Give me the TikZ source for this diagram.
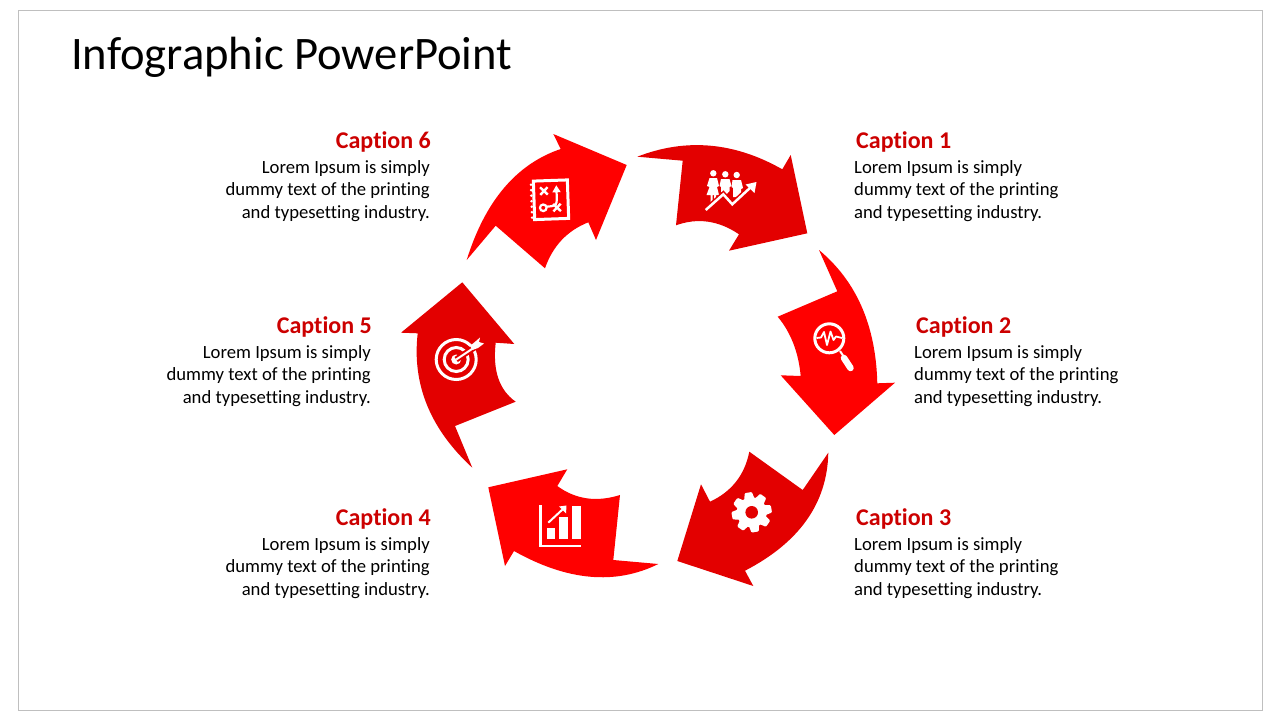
\documentclass[tikz,border=0pt]{standalone}
\usepackage{fontspec}
\setmainfont[RawFeature={-liga;-clig;-dlig;-calt}]{Carlito}
\usetikzlibrary{positioning}
\definecolor{redA}{HTML}{E30000}
\definecolor{redB}{HTML}{FF0000}
\definecolor{capred}{HTML}{CC0000}
\newcommand{\lorem}{Lorem Ipsum is simply\\dummy text of the printing\\and typesetting industry.}
\begin{document}
\begin{tikzpicture}
		[x=1pt,y=-1pt,
		 capR/.style= {inner sep=0,anchor=base east,text=capred,font=\fontsize{24}{25}\selectfont\bfseries},
		 capL/.style= {inner sep=0,anchor=base west,text=capred,font=\fontsize{24}{25}\selectfont\bfseries},
		 txtR/.style= {inner sep=0,anchor=north east,align=right,font=\fontsize{18.67}{22.5}\selectfont},
		 txtL/.style= {inner sep=0,anchor=north west,align=left,font=\fontsize{18.67}{22.5}\selectfont},
		 ico/.style= {draw=white,line width=2.5,line join=miter},
		 icoFill/.style= {fill=white}]

		\useasboundingbox (0,0) rectangle (1280,720);
		\draw[black!25,line width=1] (18.5,10.5) rectangle (1262.5,710.5);

		\node[inner sep=0,anchor=base west,font=\fontsize{46.6}{50}\selectfont] (title) at (71,69.5) {Infographic PowerPoint};

		% arrows
		\fill[redA] (637.3,156.7) .. controls (685.9,137.8) and (734.2,142) .. (782.3,169.3) -- (790.7,155) -- (807.3,233.3) -- (729,250.7)
			-- (739,234.3) .. controls (718.7,220.5) and (697.7,217.5) .. (676,225.3) -- (682.7,160.7) -- cycle;
		\fill[redB] (819,250) .. controls (856.5,281.2) and (875.9,325.6) .. (877.3,383.3) -- (895,382.7) -- (834.3,435) -- (780.7,375.3)
			-- (800.7,376) .. controls (798.5,352.2) and (790.8,332.4) .. (777.7,316.7) -- (837.3,291.3) -- cycle;
		\fill[redA] (828.3,452.7) .. controls (827.3,503.1) and (799.5,542.4) .. (745,570.7) -- (753.3,586) -- (677.3,561) -- (701,484.3)
			-- (710,501.7) .. controls (731.6,491.7) and (744.7,475) .. (749.3,451.7) -- (802.7,490) -- cycle;
		\fill[redB] (658.3,564) .. controls (615.3,585.3) and (567.2,580.9) .. (514,551) -- (505,566) -- (488.3,487.3) -- (567.3,469.3)
			-- (557.3,486) .. controls (575.6,499.4) and (596.5,502.4) .. (620,495) -- (613.3,560) -- cycle;
		\fill[redA] (472.3,467.7) .. controls (430.1,428.9) and (411.9,384.1) .. (417.7,333.3) -- (401,332.7) -- (462.3,282.3) -- (514.3,344)
			-- (495.7,342.7) .. controls (492.5,370.5) and (499.2,390.2) .. (515.7,401.7) -- (455,426) -- cycle;
		\fill[redB] (466.7,260) .. controls (485.1,201) and (516.4,164) .. (560.7,149) -- (553.3,134) -- (626.7,165) -- (596,240)
			-- (588.3,222.3) .. controls (567.3,230.6) and (552.8,245.9) .. (545,268.3) -- (495.7,225.7) -- cycle;

		% people
		\fill[icoFill] (713.3,173.3) circle (3.2) (725.3,174.3) circle (3.2) (736.7,175) circle (3.2);
		\fill[icoFill] (709.5,178) -- (717,178) -- (719,186) -- (717,187) -- (719,195) -- (716,195) -- (716,202) -- (714,202) -- (714,195)
			-- (712.5,195) -- (712.5,202) -- (710.5,202) -- (710.5,195) -- (706.5,195) -- (709.5,187) -- (707,186) -- cycle;
		\fill[icoFill] (721,179) -- (729.5,179) -- (731.5,186) -- (729.5,187) -- (729.5,191) -- (725,196) -- (721,192) -- (721,187) -- (719.5,186) -- cycle;
		\fill[icoFill] (732.5,180) -- (741,180) -- (743,188) -- (741,189) -- (741,193) -- (737,197) -- (733,197) -- (733,188) -- (731.5,187) -- cycle;
		\draw[redA,line width=5.5] (705.7,210) -- (723.3,194.3) -- (732.3,204.3) -- (751,187);
		\draw[ico] (705.7,210) -- (723.3,194.3) -- (732.3,204.3) -- (751,187);
		\fill[icoFill] (756.5,182) -- (754.5,193) -- (745.5,184.5) -- cycle;

		% magnifier
		\draw[ico,line width=3] (829.3,338.3) circle (14.5);
		\draw[draw=white,line width=1.8,line join=round] (816.5,338) -- (821,337.5) -- (824,332) -- (827,345) -- (830.5,331.5) -- (833.5,340) -- (836,336.5) -- (842,338);
		\draw[draw=white,line width=2] (840,351) -- (844,357);
		\draw[draw=white,line width=6.5,line cap=round] (844,358) -- (850.5,368);

		% gear
		\fill[icoFill] (751.7,512.3) circle (15);
		\foreach \a in {0,45,...,315}
			\fill[icoFill,rounded corners=1,rotate around={\a+10:(751.7,512.3)}] (748,492.3) -- (755.4,492.3) -- (757,500) -- (746.4,500) -- cycle;
		\fill[redA] (751.7,512.3) circle (6.3);

		% bars
		\draw[ico] (540.5,505) -- (540.5,546) -- (580.5,546);
		\fill[icoFill] (546.7,527.7) rectangle (555,539.3);
		\fill[icoFill] (559.3,516.7) rectangle (568.3,539.3);
		\fill[icoFill] (571.7,506) rectangle (581,539.3);
		\draw[ico,line width=2] (548.3,522.7) -- (563,509);
		\fill[icoFill] (566.5,505.5) -- (566,513.5) -- (559,506.5) -- cycle;

		% target
		\draw[ico,line width=3] (456.2,359.5) circle (20);
		\draw[ico,line width=3] (456.2,359.5) circle (12);
		\fill[icoFill] (456.2,359.5) circle (5);
		\draw[redA,line width=6] (456.2,359.5) -- (475,347);
		\draw[ico,line width=2] (456.2,359.5) -- (475,347);
		\fill[icoFill] (470,346) -- (476,341) -- (480,337.5) -- (479,342) -- (484,343.5) -- (478,348) -- (472.5,350) -- cycle;

		% notebook
		\begin{scope}[rotate around={2:(551,199.5)}]
			\draw[ico,line width=3] (534,180.5) rectangle (568,219);
			\foreach \b in {184,189.5,...,217}
				\fill[icoFill] (531.5,\b) circle (1.4);
			\draw[ico,line width=2.4] (540.5,187) -- (548,194.5) (548,187) -- (540.5,194.5);
			\draw[ico,line width=2.4] (553,204) -- (560.5,211.5) (560.5,204) -- (553,211.5);
			\draw[ico,line width=2.2] (543,207.5) circle (3.3);
			\draw[ico,line width=2.2] (546.5,206.5) .. controls (557,206) .. (556.8,192);
			\fill[icoFill] (556.8,185.5) -- (561,192.5) -- (552.5,192.5) -- cycle;
		\end{scope}

		% captions
		\node[capL] (cap1) at (856,148) {Caption 1};
		\node[capL] (cap2) at (916,333) {Caption 2};
		\node[capL] (cap3) at (856,525) {Caption 3};
		\node[capR] (cap4) at (431,525) {Caption 4};
		\node[capR] (cap5) at (372,333) {Caption 5};
		\node[capR] (cap6) at (431,148) {Caption 6};

		\node[txtL] (txt1) at (854,160) {\lorem};
		\node[txtL] (txt2) at (914,345) {\lorem};
		\node[txtL] (txt3) at (854,537) {\lorem};
		\node[txtR] (txt4) at (430,537) {\lorem};
		\node[txtR] (txt5) at (371,345) {\lorem};
		\node[txtR] (txt6) at (430,160) {\lorem};

	\end{tikzpicture}
\end{document}
